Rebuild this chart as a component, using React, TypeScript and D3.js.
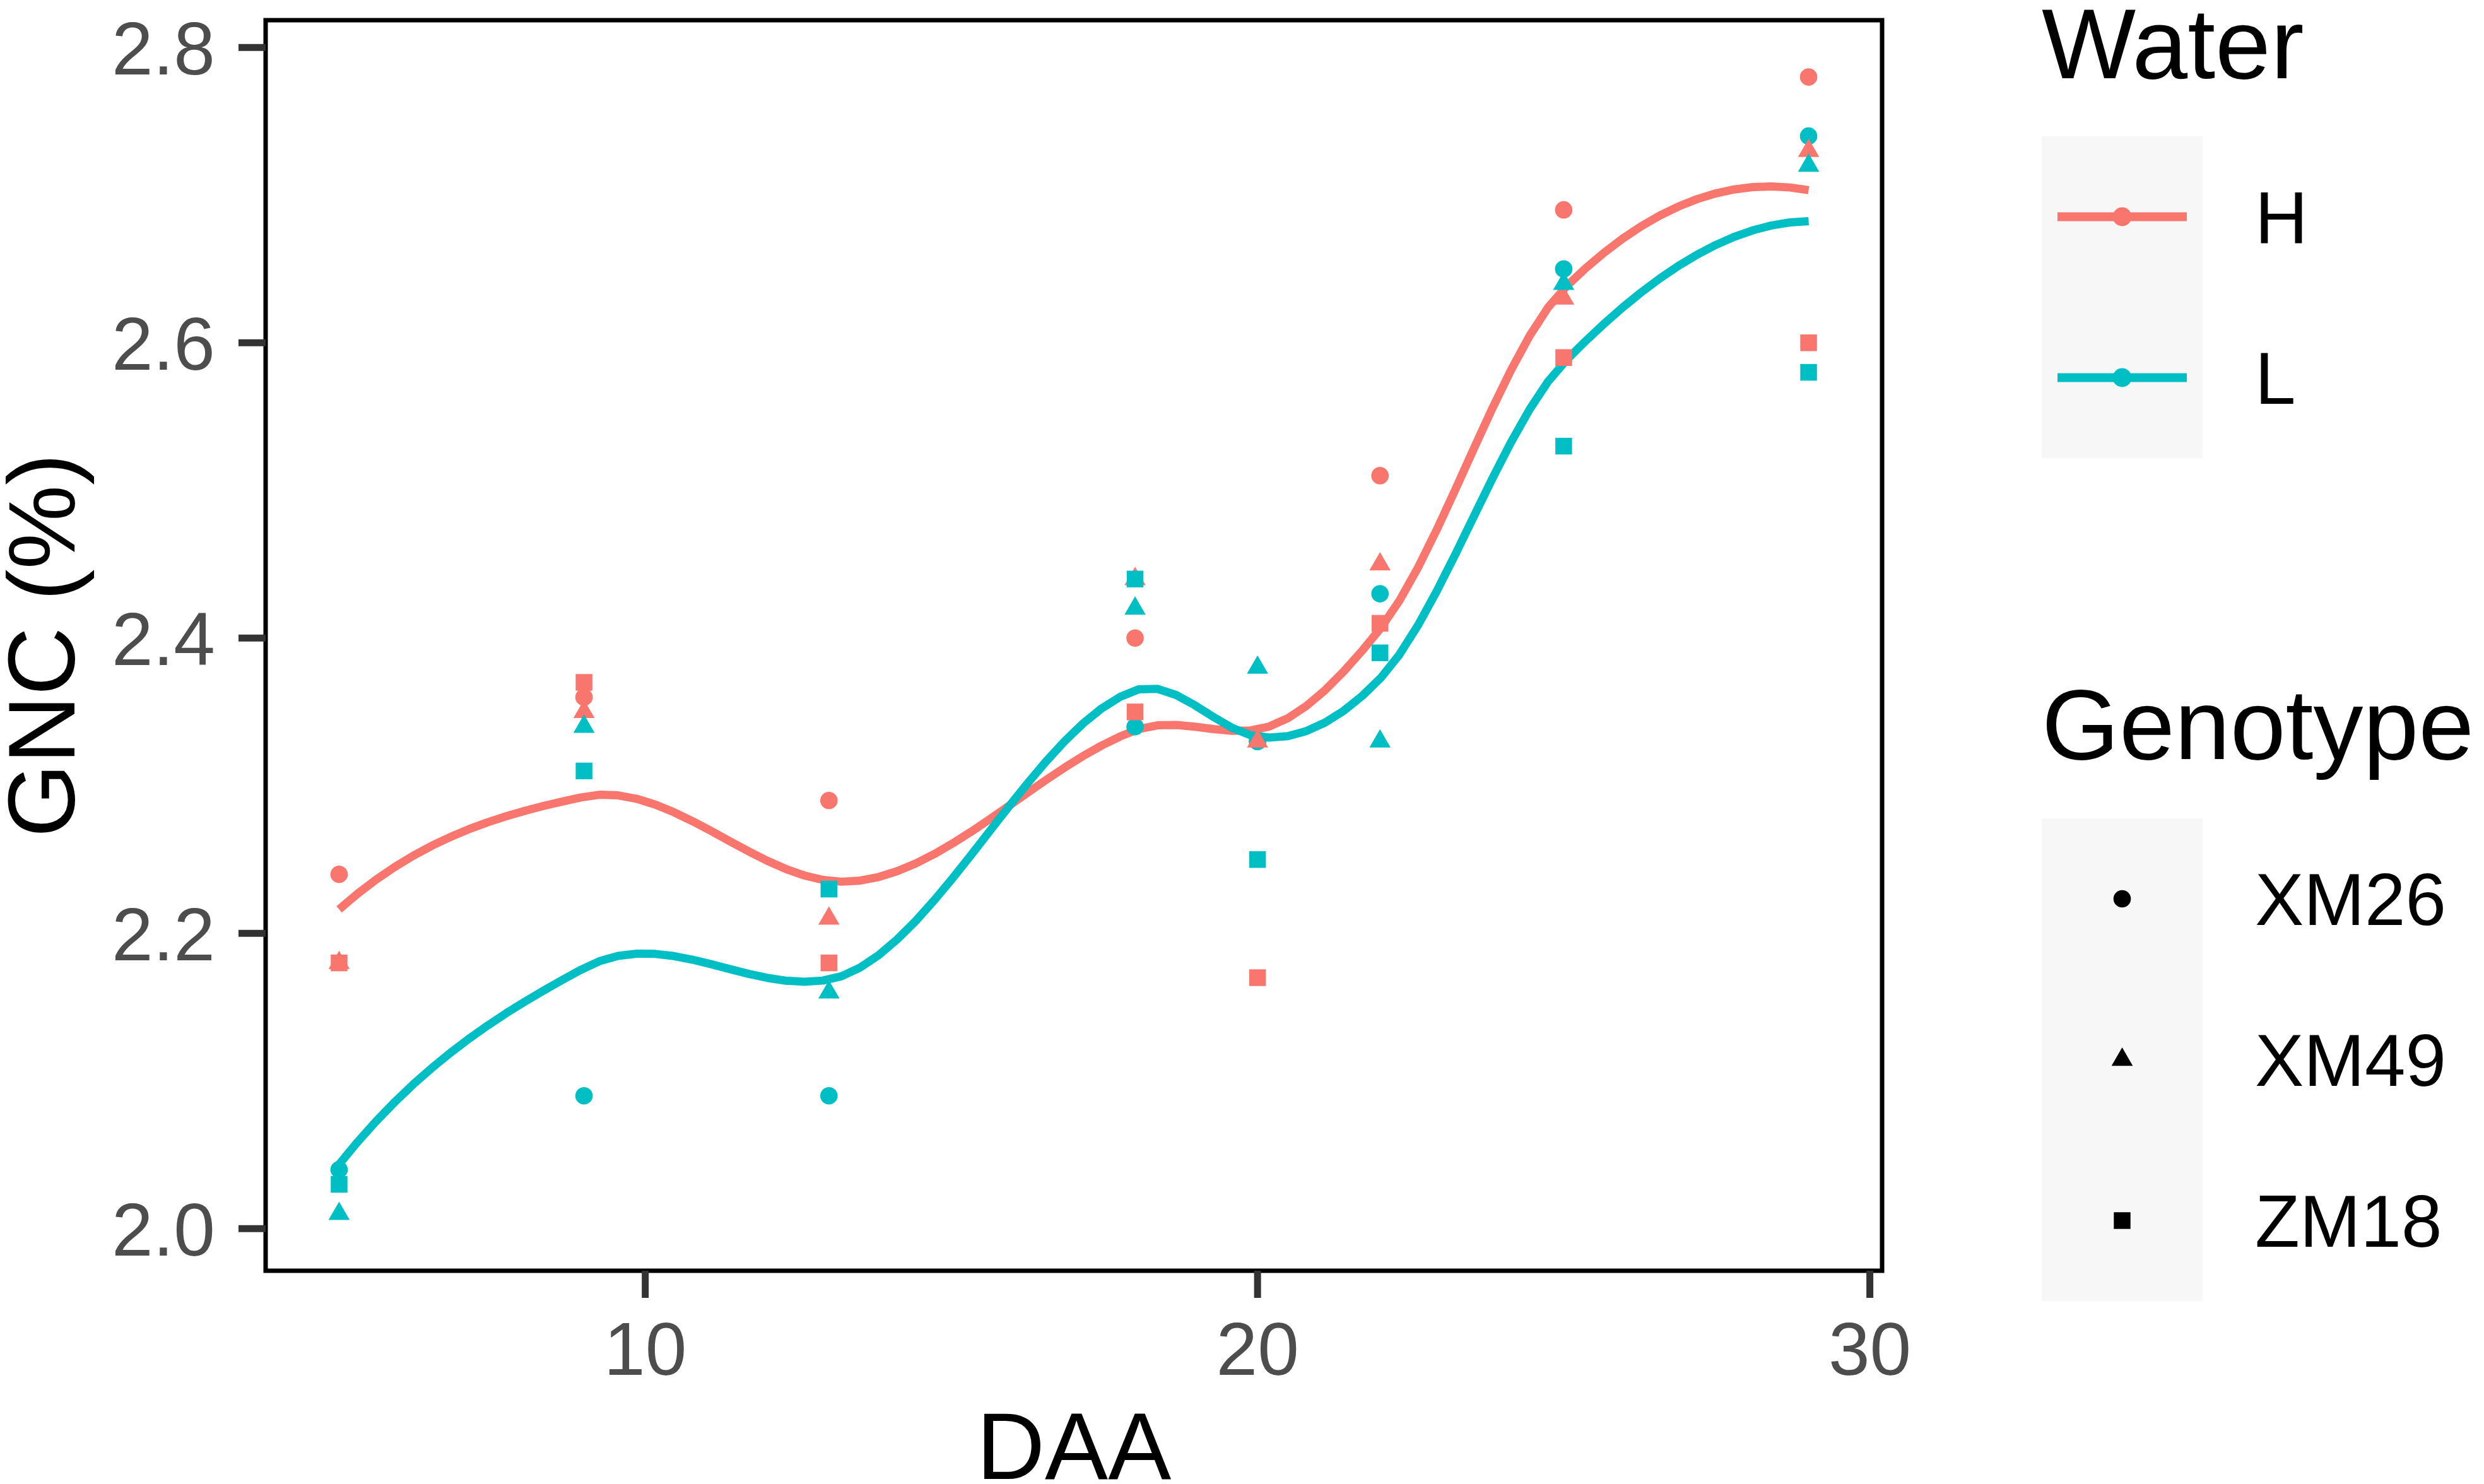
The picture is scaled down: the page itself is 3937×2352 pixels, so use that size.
import * as d3 from 'd3';

// sampling days (DAA) and GNC values
const DAA = [5, 9, 13, 18, 20, 22, 25, 29];
const WATER = ['H', 'L'];
const GENOTYPES = ['XM26', 'XM49', 'ZM18'];

const H_XM26 = [2.24, 2.36, 2.29, 2.40, 2.33, 2.51, 2.69, 2.78];
const H_XM49 = [2.18, 2.35, 2.21, 2.44, 2.33, 2.45, 2.63, 2.73];
const H_ZM18 = [2.18, 2.37, 2.18, 2.35, 2.17, 2.41, 2.59, 2.60];
const L_XM26 = [2.04, 2.09, 2.09, 2.34, 2.33, 2.43, 2.65, 2.74];
const L_XM49 = [2.01, 2.34, 2.16, 2.42, 2.38, 2.33, 2.64, 2.72];
const L_ZM18 = [2.03, 2.31, 2.23, 2.44, 2.25, 2.39, 2.53, 2.58];

const SERIES: Record<string, number[]> = {
  'H-XM26': H_XM26, 'H-XM49': H_XM49, 'H-ZM18': H_ZM18,
  'L-XM26': L_XM26, 'L-XM49': L_XM49, 'L-ZM18': L_ZM18,
};

const Y_TICKS = [2.0, 2.2, 2.4, 2.6, 2.8];
const X_TICKS = [10, 20, 30];

const COLORS: Record<string, string> = { H: '#F8766D', L: '#00BFC4' };
const SPAN = 0.6;

interface Pt { x: number; y: number; water: string; genotype: string }

// genotype first, then water - that is the order the points overlap in the figure
const points: Pt[] = [];
GENOTYPES.forEach(g => WATER.forEach(w => {
  SERIES[`${w}-${g}`].forEach((y, i) => points.push({ x: DAA[i], y, water: w, genotype: g }));
}));

// local quadratic fit at v, returns [value, slope]
function localFit(xs: number[], ys: number[], v: number, span: number): [number, number] {
  const n = xs.length;
  const q = Math.floor(n * span);
  const dist = xs.map(x => Math.abs(x - v));
  const rho = [...dist].sort((a, b) => a - b)[q - 1];
  const A = [[0, 0, 0], [0, 0, 0], [0, 0, 0]];
  const b = [0, 0, 0];
  for (let i = 0; i < n; i++) {
    if (dist[i] >= rho) continue;
    const w = Math.pow(1 - Math.pow(dist[i] / rho, 3), 3);
    const t = xs[i] - v;
    const basis = [1, t, t * t];
    for (let r = 0; r < 3; r++) {
      b[r] += w * basis[r] * ys[i];
      for (let c = 0; c < 3; c++) A[r][c] += w * basis[r] * basis[c];
    }
  }
  // gaussian elimination
  for (let c = 0; c < 3; c++) {
    let p = c;
    for (let r = c + 1; r < 3; r++) if (Math.abs(A[r][c]) > Math.abs(A[p][c])) p = r;
    [A[c], A[p]] = [A[p], A[c]];
    [b[c], b[p]] = [b[p], b[c]];
    for (let r = c + 1; r < 3; r++) {
      const f = A[r][c] / A[c][c];
      for (let k = c; k < 3; k++) A[r][k] -= f * A[c][k];
      b[r] -= f * b[c];
    }
  }
  const s = [0, 0, 0];
  for (let r = 2; r >= 0; r--) {
    let acc = b[r];
    for (let k = r + 1; k < 3; k++) acc -= A[r][k] * s[k];
    s[r] = acc / A[r][r];
  }
  return [s[0], s[1]];
}

// loess like R does it: kd-tree vertices + cubic hermite between them
function loess(xs: number[], ys: number[], span: number, nOut = 80) {
  const n = xs.length;
  const sx = [...xs].sort((a, b) => a - b);
  const lo = sx[0], hi = sx[n - 1];
  const mu = 0.005 * (hi - lo);
  const fc = Math.floor(n * span * 0.2);
  const verts = new Set<number>([lo - mu, hi + mu]);
  const split = (l: number, u: number, vl: number, vu: number) => {
    if (u - l + 1 <= fc) return;
    let m = Math.floor((l + u) / 2);
    let offset = 0;
    while (!(m + offset >= u || m + offset < l)) {
      if (sx[m + offset] === sx[m + offset + 1]) {
        offset = -offset;
        if (offset >= 0) offset += 1;
      } else {
        m = m + offset;
        break;
      }
    }
    const t = sx[m];
    if (t === vl || t === vu) return;
    verts.add(t);
    split(l, m, vl, t);
    split(m + 1, u, t, vu);
  };
  split(0, n - 1, lo - mu, hi + mu);
  const vs = [...verts].sort((a, b) => a - b);
  const fits = vs.map(v => localFit(xs, ys, v, span));
  const out: [number, number][] = [];
  for (let i = 0; i < nOut; i++) {
    const x = lo + (hi - lo) * i / (nOut - 1);
    let j = 0;
    while (j < vs.length - 2 && x > vs[j + 1]) j++;
    const h = vs[j + 1] - vs[j];
    const u = (x - vs[j]) / h;
    const [g0, s0] = fits[j];
    const [g1, s1] = fits[j + 1];
    const phi0 = (1 - u) * (1 - u) * (1 + 2 * u);
    const phi1 = u * u * (3 - 2 * u);
    const psi0 = u * (1 - u) * (1 - u);
    const psi1 = -u * u * (1 - u);
    out.push([x, phi0 * g0 + phi1 * g1 + (psi0 * s0 + psi1 * s1) * h]);
  }
  return out;
}

const W = 3937;
const H = 2352;
const panel = { left: 421, right: 2983, top: 32, bottom: 2014 };
const FONT = '"Liberation Sans", Arial, Helvetica, sans-serif';

const SHAPES: Record<string, d3.SymbolType> = {
  XM26: d3.symbolCircle,
  XM49: d3.symbolTriangle,
  ZM18: d3.symbolSquare,
};
const SIZES: Record<string, number> = { XM26: 600, XM49: 490, ZM18: 700 };

export default function App() {
  const allX = points.map(p => p.x);
  const allY = points.map(p => p.y);
  const [x0, x1] = d3.extent(allX) as [number, number];
  const [y0, y1] = d3.extent(allY) as [number, number];
  const xPad = (x1 - x0) * 0.05;
  const yPad = (y1 - y0) * 0.05;

  const x = d3.scaleLinear().domain([x0 - xPad, x1 + xPad]).range([panel.left, panel.right]);
  const y = d3.scaleLinear().domain([y0 - yPad, y1 + yPad]).range([panel.bottom, panel.top]);

  const line = d3.line<[number, number]>().x(d => x(d[0])).y(d => y(d[1]));

  const smooths = WATER.map(w => {
    const sub = points.filter(p => p.water === w);
    return { water: w, path: line(loess(sub.map(p => p.x), sub.map(p => p.y), SPAN)) || '' };
  });

  const sym = (g: string) => d3.symbol(SHAPES[g], SIZES[g])() || '';

  const keyX = 3236;
  const keySize = 255;
  const waterTop = 216;
  const genoTop = 1297;

  return (
    <svg width={W} height={H} style={{ position: 'absolute', left: 0, top: 0, background: '#fff' }}
      fontFamily={FONT}>
      <rect x={0} y={0} width={W} height={H} fill="#fff" />
      <defs>
        <clipPath id="panel-clip">
          <rect x={panel.left} y={panel.top} width={panel.right - panel.left} height={panel.bottom - panel.top} />
        </clipPath>
      </defs>

      {/* smoothers first, points drawn over them */}
      <g clipPath="url(#panel-clip)">
        {smooths.map(s => (
          <path key={s.water} d={s.path} fill="none" stroke={COLORS[s.water]} strokeWidth={13}
            strokeLinejoin="round" />
        ))}
        {points.map((p, i) => (
          <path key={i} d={sym(p.genotype)} fill={COLORS[p.water]}
            transform={`translate(${x(p.x)},${y(p.y)})`} />
        ))}
      </g>

      <rect x={panel.left} y={panel.top} width={panel.right - panel.left} height={panel.bottom - panel.top}
        fill="none" stroke="#000" strokeWidth={7} />

      {/* y axis */}
      {Y_TICKS.map(t => (
        <g key={t}>
          <line x1={panel.left - 43} x2={panel.left} y1={y(t)} y2={y(t)} stroke="#333" strokeWidth={11} />
          <text x={341} y={y(t)} dy="0.36em" textAnchor="end" fontSize={118} fill="#4D4D4D">{t.toFixed(1)}</text>
        </g>
      ))}
      {/* x axis */}
      {X_TICKS.map(t => (
        <g key={t}>
          <line x1={x(t)} x2={x(t)} y1={panel.bottom} y2={panel.bottom + 43} stroke="#333" strokeWidth={11} />
          <text x={x(t)} y={2179} textAnchor="middle" fontSize={118} fill="#4D4D4D">{t}</text>
        </g>
      ))}

      <text x={(panel.left + panel.right) / 2} y={2344} textAnchor="middle" fontSize={150}>DAA</text>
      <text transform={`translate(118,${(panel.top + panel.bottom) / 2}) rotate(-90)`} textAnchor="middle"
        fontSize={150}>GNC (%)</text>

      {/* Water legend */}
      <text x={keyX} y={124} fontSize={158}>Water</text>
      {WATER.map((w, i) => {
        const cy = waterTop + keySize * i + keySize / 2;
        return (
          <g key={w}>
            <rect x={keyX} y={waterTop + keySize * i} width={keySize} height={keySize} fill="#F7F7F7" />
            <line x1={keyX + 25} x2={keyX + keySize - 25} y1={cy} y2={cy} stroke={COLORS[w]} strokeWidth={14} />
            <circle cx={keyX + keySize / 2} cy={cy} r={15} fill={COLORS[w]} />
            <text x={3574} y={cy} dy="0.36em" fontSize={116}>{w}</text>
          </g>
        );
      })}

      {/* Genotype legend */}
      <text x={keyX} y={1203} fontSize={158}>Genotype</text>
      {GENOTYPES.map((g, i) => {
        const cy = genoTop + keySize * i + keySize / 2;
        return (
          <g key={g}>
            <rect x={keyX} y={genoTop + keySize * i} width={keySize} height={keySize} fill="#F7F7F7" />
            <path d={sym(g)} fill="#000" transform={`translate(${keyX + keySize / 2},${cy})`} />
            <text x={3574} y={cy} dy="0.36em" fontSize={116}>{g}</text>
          </g>
        );
      })}
    </svg>
  );
}
